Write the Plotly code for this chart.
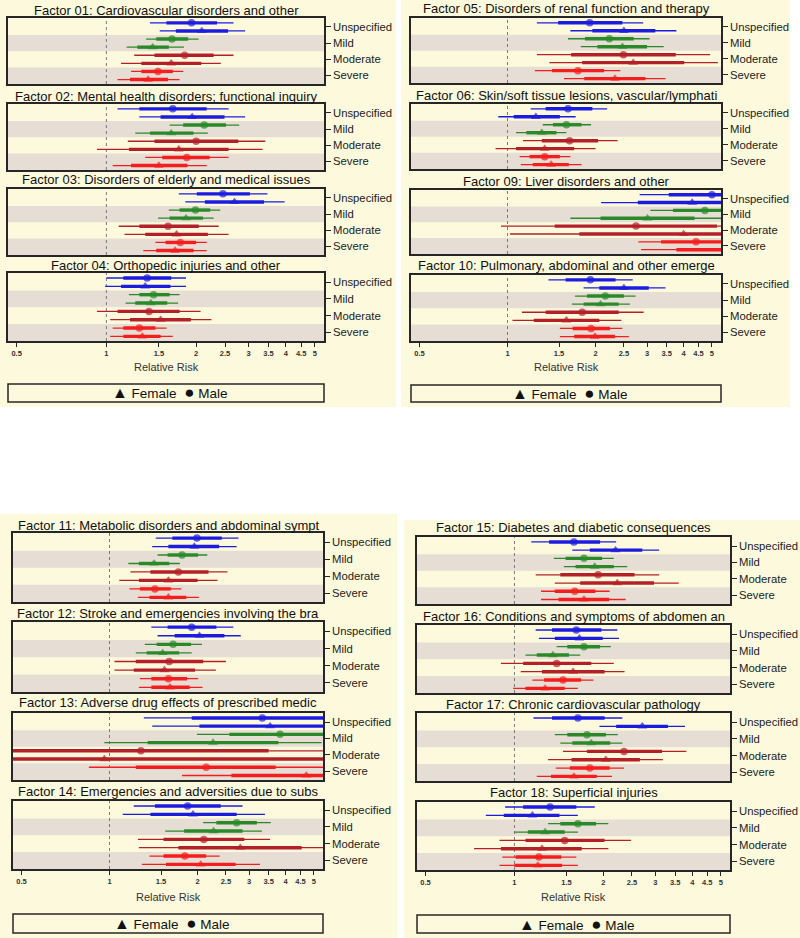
import plotly.graph_objects as go

W, H = 800, 938
FONT = "Liberation Sans, Arial, sans-serif"

# ---------------- data ----------------
# rows (top to bottom): Unspecified M, Unspecified F, Mild M, Mild F, Moderate M, Moderate F, Severe M, Severe F
level_labels = ["Unspecified", "Mild", "Moderate", "Severe"]
x_tick_vals = [0.5, 1, 1.5, 2, 2.5, 3, 3.5, 4, 4.5, 5]
x_tick_text = ["0.5", "1", "1.5", "2", "2.5", "3", "3.5", "4", "4.5", "5"]

f01_title = "Factor 01: Cardiovascular disorders and other"
f01_rr = [1.93, 2.09, 1.66, 1.43, 1.83, 1.65, 1.49, 1.38]
f01_lo = [1.40, 1.51, 1.36, 1.17, 1.24, 1.12, 1.21, 1.09]
f01_hi = [2.67, 2.92, 2.04, 1.82, 2.67, 2.42, 1.81, 1.76]
f01_ilo = [1.59, 1.71, 1.47, 1.27, 1.45, 1.31, 1.31, 1.20]
f01_ihi = [2.35, 2.56, 1.88, 1.62, 2.29, 2.08, 1.67, 1.61]

f02_title = "Factor 02: Mental health disorders; functional inquiry"
f02_rr = [1.67, 1.94, 2.13, 1.65, 2.00, 1.75, 1.86, 1.50]
f02_lo = [1.09, 1.29, 1.63, 1.25, 1.18, 0.93, 1.35, 1.05]
f02_hi = [2.57, 2.92, 2.79, 2.19, 3.41, 3.34, 2.57, 2.17]
f02_ilo = [1.29, 1.52, 1.81, 1.40, 1.45, 1.19, 1.54, 1.21]
f02_ihi = [2.17, 2.49, 2.52, 1.96, 2.77, 2.57, 2.22, 1.87]

f03_title = "Factor 03: Disorders of elderly and medical issues"
f03_rr = [2.46, 2.69, 1.99, 1.85, 1.61, 1.72, 1.77, 1.70]
f03_lo = [1.75, 1.84, 1.62, 1.49, 1.10, 1.15, 1.46, 1.33]
f03_hi = [3.47, 3.96, 2.41, 2.29, 2.38, 2.57, 2.17, 2.17]
f03_ilo = [2.01, 2.14, 1.76, 1.63, 1.29, 1.35, 1.58, 1.47]
f03_ihi = [3.03, 3.38, 2.23, 2.11, 2.04, 2.19, 2.00, 1.96]

f04_title = "Factor 04: Orthopedic injuries and other"
f04_rr = [1.37, 1.35, 1.44, 1.41, 1.39, 1.52, 1.29, 1.32]
f04_lo = [1.00, 0.99, 1.19, 1.16, 0.93, 1.03, 1.05, 1.03]
f04_hi = [1.85, 1.85, 1.76, 1.74, 2.07, 2.25, 1.59, 1.67]
f04_ilo = [1.14, 1.12, 1.29, 1.25, 1.09, 1.20, 1.14, 1.14]
f04_ihi = [1.65, 1.64, 1.63, 1.60, 1.76, 1.92, 1.46, 1.52]

f05_title = "Factor 05: Disorders of renal function and therapy"
f05_rr = [1.91, 2.50, 2.23, 2.47, 2.49, 2.69, 1.74, 2.33]
f05_lo = [1.26, 1.64, 1.61, 1.78, 1.26, 1.39, 1.24, 1.56]
f05_hi = [2.91, 3.78, 3.06, 3.42, 4.93, 5.24, 2.43, 3.47]
f05_ilo = [1.49, 1.95, 1.84, 2.03, 1.65, 1.80, 1.42, 1.83]
f05_ihi = [2.47, 3.20, 2.70, 3.00, 3.76, 4.02, 2.14, 2.96]

f06_title = "Factor 06: Skin/soft tissue lesions, vascular/lymphati"
f06_rr = [1.61, 1.25, 1.59, 1.31, 1.63, 1.34, 1.34, 1.41]
f06_lo = [1.20, 0.93, 1.32, 1.07, 1.13, 0.91, 1.10, 1.11]
f06_hi = [2.19, 1.71, 1.93, 1.59, 2.38, 2.00, 1.64, 1.79]
f06_ilo = [1.35, 1.05, 1.43, 1.16, 1.31, 1.07, 1.19, 1.22]
f06_ihi = [1.95, 1.51, 1.79, 1.47, 2.04, 1.69, 1.51, 1.62]

f09_title = "Factor 09: Liver disorders and other"
f09_rr = [5.00, 4.28, 4.73, 3.01, 2.75, 4.00, 4.41, 6.00]
f09_lo = [2.83, 2.09, 3.08, 1.64, 0.95, 1.02, 2.80, 2.86]
f09_hi = [9.0, 8.5, 7.0, 5.8, 7.0, 12.0, 7.5, 10.0]
f09_ilo = [3.56, 2.79, 3.68, 2.08, 1.45, 1.76, 3.35, 3.78]
f09_ihi = [7.0, 6.5, 6.0, 4.36, 5.20, 8.0, 6.0, 8.0]

f10_title = "Factor 10: Pulmonary, abdominal and other emerge"
f10_rr = [1.92, 2.50, 2.16, 2.08, 1.80, 1.59, 1.93, 1.99]
f10_lo = [1.38, 1.82, 1.70, 1.66, 1.12, 1.04, 1.51, 1.51]
f10_hi = [2.68, 3.47, 2.74, 2.62, 2.92, 2.45, 2.47, 2.60]
f10_ilo = [1.58, 2.06, 1.87, 1.82, 1.35, 1.23, 1.67, 1.69]
f10_ihi = [2.34, 3.04, 2.50, 2.40, 2.40, 2.06, 2.24, 2.33]

f11_title = "Factor 11: Metabolic disorders and abdominal sympt"
f11_rr = [1.99, 1.95, 1.77, 1.42, 1.72, 1.59, 1.43, 1.59]
f11_lo = [1.44, 1.40, 1.46, 1.16, 1.18, 1.08, 1.17, 1.25]
f11_hi = [2.76, 2.72, 2.16, 1.74, 2.53, 2.34, 1.76, 2.02]
f11_ilo = [1.64, 1.59, 1.58, 1.26, 1.38, 1.26, 1.27, 1.37]
f11_ihi = [2.42, 2.37, 2.01, 1.60, 2.18, 2.00, 1.62, 1.83]

f12_title = "Factor 12: Stroke and emergencies involving the bra"
f12_rr = [1.91, 2.03, 1.65, 1.52, 1.60, 1.54, 1.59, 1.61]
f12_lo = [1.39, 1.46, 1.32, 1.23, 1.04, 1.04, 1.27, 1.26]
f12_hi = [2.65, 2.81, 2.07, 1.91, 2.50, 2.31, 2.01, 2.08]
f12_ilo = [1.58, 1.67, 1.45, 1.34, 1.23, 1.21, 1.39, 1.39]
f12_ihi = [2.32, 2.47, 1.90, 1.73, 2.09, 1.96, 1.84, 1.88]

f13_title = "Factor 13: Adverse drug effects of prescribed medic"
f13_rr = [3.33, 3.54, 3.83, 2.26, 1.28, 0.96, 2.14, 4.71]
f13_lo = [1.31, 1.40, 1.99, 0.96, 0.30, 0.15, 0.85, 1.77]
f13_hi = [8.5, 9.0, 10.0, 5.31, 6.0, 9.0, 6.0, 12.0]
f13_ilo = [1.91, 2.03, 2.57, 1.35, 0.40, 0.30, 1.23, 2.61]
f13_ihi = [6.0, 6.5, 7.0, 3.78, 3.50, 6.0, 3.70, 8.0]

f14_title = "Factor 14: Emergencies and adversities due to subs"
f14_rr = [1.85, 1.93, 2.72, 2.27, 2.10, 2.80, 1.81, 2.05]
f14_lo = [1.21, 1.11, 2.09, 1.55, 1.25, 1.26, 1.37, 1.29]
f14_hi = [2.85, 3.40, 3.56, 3.32, 3.54, 6.0, 2.38, 3.27]
f14_ilo = [1.43, 1.38, 2.32, 1.80, 1.53, 1.72, 1.53, 1.56]
f14_ihi = [2.40, 2.72, 3.19, 2.85, 2.89, 4.54, 2.14, 2.70]

f15_title = "Factor 15: Diabetes and diabetic consequences"
f15_rr = [1.59, 2.20, 1.72, 1.87, 1.92, 2.23, 1.60, 1.72]
f15_lo = [1.14, 1.57, 1.36, 1.47, 1.18, 1.37, 1.23, 1.23]
f15_hi = [2.21, 3.09, 2.17, 2.41, 3.09, 3.60, 2.10, 2.38]
f15_ilo = [1.31, 1.80, 1.49, 1.61, 1.43, 1.67, 1.37, 1.41]
f15_ihi = [1.95, 2.71, 1.98, 2.17, 2.55, 2.97, 1.88, 2.09]

f16_title = "Factor 16: Conditions and symptoms of abdomen an"
f16_rr = [1.62, 1.66, 1.72, 1.35, 1.39, 1.58, 1.46, 1.27]
f16_lo = [1.18, 1.21, 1.39, 1.09, 0.90, 1.05, 1.15, 0.99]
f16_hi = [2.23, 2.26, 2.12, 1.67, 2.17, 2.36, 1.85, 1.64]
f16_ilo = [1.34, 1.37, 1.51, 1.19, 1.07, 1.24, 1.26, 1.09]
f16_ihi = [1.97, 1.99, 1.95, 1.53, 1.82, 2.02, 1.68, 1.48]

f17_title = "Factor 17: Chronic cardiovascular pathology"
f17_rr = [1.64, 2.71, 1.76, 1.82, 2.35, 2.04, 1.80, 1.59]
f17_lo = [1.16, 1.94, 1.37, 1.43, 1.46, 1.30, 1.38, 1.19]
f17_hi = [2.32, 3.78, 2.24, 2.32, 3.82, 3.18, 2.35, 2.14]
f17_ilo = [1.34, 2.21, 1.51, 1.57, 1.76, 1.56, 1.54, 1.33]
f17_ihi = [2.02, 3.31, 2.04, 2.11, 3.16, 2.66, 2.10, 1.90]

f18_title = "Factor 18: Superficial injuries"
f18_rr = [1.32, 1.15, 1.64, 1.27, 1.48, 1.24, 1.21, 1.20]
f18_lo = [0.93, 0.80, 1.30, 1.00, 0.89, 0.73, 0.91, 0.89]
f18_hi = [1.87, 1.64, 2.08, 1.64, 2.48, 2.08, 1.62, 1.64]
f18_ilo = [1.07, 0.92, 1.43, 1.11, 1.09, 0.90, 1.01, 1.00]
f18_ihi = [1.62, 1.42, 1.89, 1.48, 2.02, 1.69, 1.44, 1.45]

factors = [
    (f01_title, f01_rr, f01_lo, f01_hi, f01_ilo, f01_ihi),
    (f02_title, f02_rr, f02_lo, f02_hi, f02_ilo, f02_ihi),
    (f03_title, f03_rr, f03_lo, f03_hi, f03_ilo, f03_ihi),
    (f04_title, f04_rr, f04_lo, f04_hi, f04_ilo, f04_ihi),
    (f05_title, f05_rr, f05_lo, f05_hi, f05_ilo, f05_ihi),
    (f06_title, f06_rr, f06_lo, f06_hi, f06_ilo, f06_ihi),
    (f09_title, f09_rr, f09_lo, f09_hi, f09_ilo, f09_ihi),
    (f10_title, f10_rr, f10_lo, f10_hi, f10_ilo, f10_ihi),
    (f11_title, f11_rr, f11_lo, f11_hi, f11_ilo, f11_ihi),
    (f12_title, f12_rr, f12_lo, f12_hi, f12_ilo, f12_ihi),
    (f13_title, f13_rr, f13_lo, f13_hi, f13_ilo, f13_ihi),
    (f14_title, f14_rr, f14_lo, f14_hi, f14_ilo, f14_ihi),
    (f15_title, f15_rr, f15_lo, f15_hi, f15_ilo, f15_ihi),
    (f16_title, f16_rr, f16_lo, f16_hi, f16_ilo, f16_ihi),
    (f17_title, f17_rr, f17_lo, f17_hi, f17_ilo, f17_ihi),
    (f18_title, f18_rr, f18_lo, f18_hi, f18_ilo, f18_ihi),
]

# ---------------- style / layout ----------------
level_colors = ["#1c1ce0", "#2a8a2a", "#b4202a", "#f41e1e"]
BG = "#fcf9dd"
BAND = "#e6ddd4"
FRAME = "#262626"

# pixel layout of the four panels
groups = [
    dict(xs=(8, 324), plots=[(18, 84), (104, 170), (189, 255), (273, 341)],
         title_y=[10, 96, 180, 265], rr_y=367, legend=(384, 402), bg=(0, 0, 396, 407)),
    dict(xs=(411, 721), plots=[(18, 83), (104, 169), (190, 254), (275, 341)],
         title_y=[9, 95, 181, 266], rr_y=367, legend=(385, 402), bg=(401, 0, 790, 407)),
    dict(xs=(13, 323), plots=[(533, 602), (622, 692), (713, 780), (801, 869)],
         title_y=[525, 613, 702, 791], rr_y=897, legend=(914, 933), bg=(0, 514, 397, 938)),
    dict(xs=(417, 730), plots=[(537, 604), (625, 693), (713, 781), (802, 870)],
         title_y=[527, 616, 704, 792], rr_y=897, legend=(915, 933), bg=(404, 520, 800, 938)),
]

def px(x):
    return x / W

def py(y):
    return 1 - y / H

fig = go.Figure()
shapes = []
annotations = []
layout_axes = {}

# group backgrounds
for g in groups:
    x0, y0, x1, y1 = g["bg"]
    shapes.append(dict(type="rect", xref="paper", yref="paper", x0=px(x0), x1=px(x1),
                       y0=py(y1), y1=py(y0), fillcolor=BG, line=dict(width=0), layer="below"))

k = 0
for gi, g in enumerate(groups):
    gx0, gx1 = g["xs"]
    for pi in range(4):
        title, rr, lo, hi, ilo, ihi = factors[gi * 4 + pi]
        k += 1
        xa = "x" if k == 1 else f"x{k}"
        ya = "y" if k == 1 else f"y{k}"
        xname = "xaxis" if k == 1 else f"xaxis{k}"
        yname = "yaxis" if k == 1 else f"yaxis{k}"
        t, b = g["plots"][pi]
        bottom = (pi == 3)
        layout_axes[xname] = dict(
            domain=[px(gx0), px(gx1)], anchor=ya, type="log", range=[-0.33, 0.73],
            tickvals=x_tick_vals, ticktext=x_tick_text, showticklabels=bottom,
            ticks="outside" if bottom else "", ticklen=4, tickcolor=FRAME, tickwidth=1,
            tickfont=dict(family=FONT, size=7.5, color="#333", weight="bold"),
            showgrid=False, zeroline=False, showline=True, mirror=True,
            linecolor=FRAME, linewidth=1.5, fixedrange=True)
        layout_axes[yname] = dict(
            domain=[py(b), py(t)], anchor=xa, range=[0.45, 8.6], side="right",
            tickvals=[7.5, 5.5, 3.5, 1.5], ticktext=level_labels, ticks="outside",
            ticklen=5, tickcolor=FRAME, tickwidth=1,
            tickfont=dict(family=FONT, size=11.3, color="#222"),
            showgrid=False, zeroline=False, showline=True, mirror=True,
            linecolor=FRAME, linewidth=1.5, fixedrange=True)
        # shaded bands (Mild, Severe)
        for (ya0, ya1) in [(4.5, 6.5), (0.0, 2.5)]:
            shapes.append(dict(type="rect", xref=f"{xa} domain", yref=ya, x0=0, x1=1,
                               y0=ya0, y1=ya1, fillcolor=BAND, line=dict(width=0), layer="below"))
        # reference line at RR = 1
        shapes.append(dict(type="line", xref=xa, yref=f"{ya} domain", x0=1, x1=1, y0=0, y1=1,
                           line=dict(color="#7a7a7a", width=1, dash="3px,3px"), layer="below"))
        # title
        annotations.append(dict(text=title, xref="paper", yref="paper",
                                x=px((gx0 + gx1) / 2), y=py(g["title_y"][pi]),
                                xanchor="center", yanchor="middle", showarrow=False,
                                font=dict(family=FONT, size=13, color="#111")))
        # traces per severity level
        for j in range(4):
            col = level_colors[j]
            ys = [8 - 2 * j, 7 - 2 * j]
            r0, r1 = 2 * j, 2 * j + 1
            fig.add_trace(go.Scatter(
                x=[lo[r0], hi[r0], None, lo[r1], hi[r1]], y=[ys[0], ys[0], None, ys[1], ys[1]],
                mode="lines", line=dict(color=col, width=1.3), xaxis=xa, yaxis=ya,
                showlegend=False, hoverinfo="skip"))
            fig.add_trace(go.Scatter(
                x=[ilo[r0], ihi[r0], None, ilo[r1], ihi[r1]], y=[ys[0], ys[0], None, ys[1], ys[1]],
                mode="lines", line=dict(color=col, width=3.4), xaxis=xa, yaxis=ya,
                showlegend=False, hoverinfo="skip"))
            fig.add_trace(go.Scatter(
                x=[rr[r0], rr[r1]], y=ys, mode="markers",
                marker=dict(color=col, symbol=["circle", "triangle-up"], size=[7.5, 8.5],
                            line=dict(width=0)),
                xaxis=xa, yaxis=ya, showlegend=False))
    # x axis title
    annotations.append(dict(text="Relative Risk", xref="paper", yref="paper",
                            x=px((gx0 + gx1) / 2), y=py(g["rr_y"]),
                            xanchor="center", yanchor="middle", showarrow=False,
                            font=dict(family=FONT, size=11, color="#333")))
    # legend box
    l0, l1 = g["legend"]
    shapes.append(dict(type="rect", xref="paper", yref="paper", x0=px(gx0), x1=px(gx1),
                       y0=py(l1), y1=py(l0), fillcolor=BG, line=dict(color=FRAME, width=1.5)))
    annotations.append(dict(
        text="<span style='font-size:16px'>▲</span> Female  <span style='font-size:17px'>●</span> Male",
        xref="paper", yref="paper",
        x=px((gx0 + gx1) / 2 + 3), y=py((l0 + l1) / 2),
        xanchor="center", yanchor="middle", showarrow=False,
        font=dict(family=FONT, size=13.5, color="#111")))

fig.update_layout(
    width=W, height=H, autosize=False,
    margin=dict(l=0, r=0, t=0, b=0),
    paper_bgcolor="white", plot_bgcolor="rgba(0,0,0,0)",
    showlegend=False, shapes=shapes, annotations=annotations,
    **layout_axes)

fig.write_html("out.html", config={"displayModeBar": False},
               post_script="document.body.style.margin='0';document.body.style.padding='0';")
